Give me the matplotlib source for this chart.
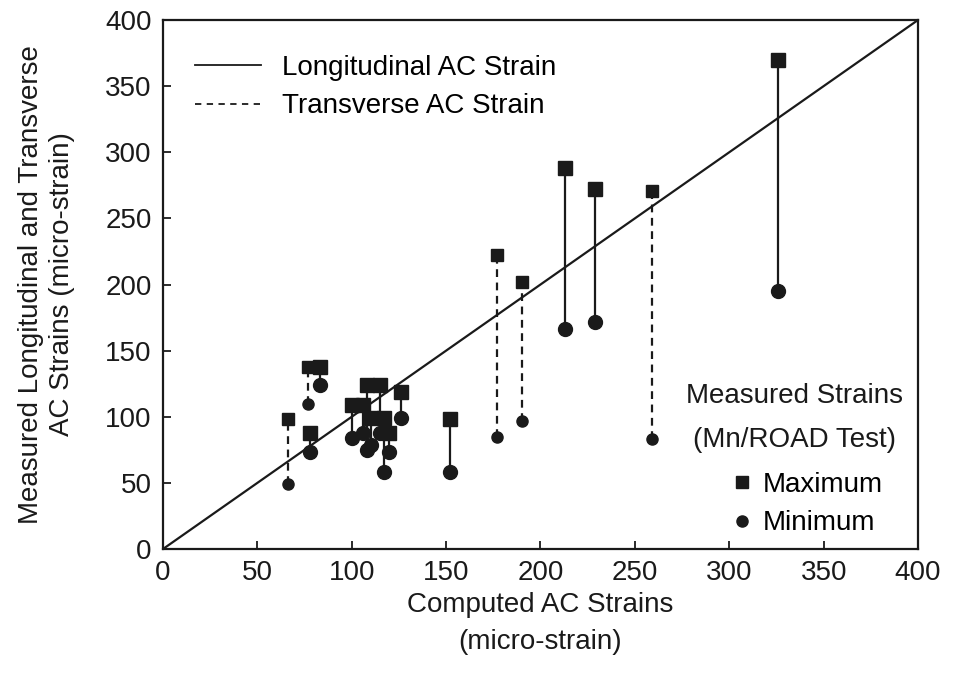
import matplotlib.pyplot as plt
from matplotlib.lines import Line2D

plt.rcParams['font.family'] = ['Liberation Sans', 'DejaVu Sans']

# computed strain, measured max, measured min, strain direction (L = longitudinal, T = transverse)
computed = [66, 77, 83, 78, 100, 106, 108, 110, 115, 117, 120, 126,
            152, 177, 190, 213, 229, 259, 326]
meas_max = [98, 138, 138, 88, 109, 109, 124, 99, 124, 99, 88, 119,
            98, 222, 202, 288, 272, 271, 370]
meas_min = [49, 110, 124, 73, 84, 88, 75, 79, 88, 58, 73, 99,
            58, 85, 97, 166, 172, 83, 195]
direction = ['T', 'T', 'L', 'L', 'L', 'L', 'L', 'L', 'L', 'L', 'L', 'L',
             'L', 'T', 'T', 'L', 'L', 'T', 'L']

ink = '#1a1a1a'
fs = 20

fig = plt.figure(figsize=(9.62, 6.8), dpi=100)
ax = fig.add_axes([0.1694, 0.1926, 0.7849, 0.778])

# line of equality
ax.plot([0, 400], [0, 400], color=ink, lw=1.6, zorder=2)

for x, hi, lo, d in zip(computed, meas_max, meas_min, direction):
    if d == 'L':
        ax.plot([x, x], [lo, hi], color=ink, lw=1.6, zorder=2)
        ms_sq, ms_ci = 9.5, 10
    else:
        ax.plot([x, x], [lo, hi], color=ink, lw=1.6, ls=(0, (3.5, 2.5)), zorder=2)
        ms_sq, ms_ci = 8, 8
    ax.plot(x, hi, marker='s', ms=ms_sq, color=ink, ls='none', zorder=3)
    ax.plot(x, lo, marker='o', ms=ms_ci, color=ink, ls='none', zorder=3)

ax.set_xlim(0, 400)
ax.set_ylim(0, 400)
ax.set_xticks(range(0, 401, 50))
ax.set_yticks(range(0, 401, 50))
ax.tick_params(direction='in', length=6, width=1.3, labelsize=fs, colors=ink, pad=8)
for s in ax.spines.values():
    s.set_linewidth(1.6)
    s.set_color(ink)

ax.set_xlabel('Computed AC Strains\n(micro-strain)', fontsize=fs, color=ink, labelpad=4,
              linespacing=1.55)
ax.set_ylabel('Measured Longitudinal and Transverse\nAC Strains (micro-strain)', fontsize=fs,
              color=ink, labelpad=22, linespacing=1.25)

# legend for strain direction
handles = [Line2D([], [], color=ink, lw=1.3),
           Line2D([], [], color=ink, lw=1.3, ls=(0, (3.5, 3)))]
leg1 = ax.legend(handles, ['Longitudinal AC Strain', 'Transverse AC Strain'],
                 loc='upper left', bbox_to_anchor=(0.042, 0.934), frameon=False,
                 fontsize=fs, handlelength=2.4, handletextpad=0.75, labelspacing=0.45,
                 borderpad=0, borderaxespad=0)
ax.add_artist(leg1)

# legend for measured strains
ax.text(0.837, 0.289, 'Measured Strains', transform=ax.transAxes, ha='center', va='center',
        fontsize=fs, color=ink)
ax.text(0.837, 0.206, '(Mn/ROAD Test)', transform=ax.transAxes, ha='center', va='center',
        fontsize=fs, color=ink)
mh = [Line2D([], [], marker='s', ms=8, color=ink, ls='none'),
      Line2D([], [], marker='o', ms=8, color=ink, ls='none')]
ax.legend(mh, ['Maximum', 'Minimum'], loc='upper left', bbox_to_anchor=(0.756, 0.146),
          frameon=False, fontsize=fs, handlelength=0.6, handletextpad=0.45,
          labelspacing=0.45, borderpad=0, borderaxespad=0)

fig.savefig('out.png', dpi=100)
